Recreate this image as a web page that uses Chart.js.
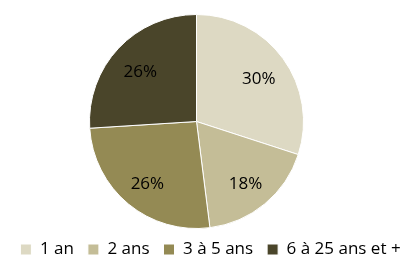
<!DOCTYPE html>
<html><head><meta charset="utf-8">
<script src="https://cdn.jsdelivr.net/npm/chart.js@4"></script>
<style>html,body{margin:0;padding:0;background:#fff}#w{width:409px;height:255px}</style>
</head><body><div id="w"><canvas id="c"></canvas></div>
<script>
const categories = ["1 an", "2 ans", "3 à 5 ans", "6 à 25 ans et +"];
const values = [30, 18, 26, 26];
const colors = ["#ddd9c3", "#c4bd97", "#948a54", "#4a452a"];
const FONT = "'Open Sans'";

const labelPlugin = {
  id: 'sliceLabels',
  afterLayout(chart) {
    // place the pie area (legend stays full width below)
    const ca = chart.chartArea;
    ca.left = 0; ca.right = 393; ca.top = 14; ca.bottom = 229;
    ca.width = ca.right - ca.left; ca.height = ca.bottom - ca.top;
    const lg = chart.legend;
    lg.left += 6; lg.right += 6;
  },
  afterDatasetsDraw(chart) {
    const ctx = chart.ctx;
    const meta = chart.getDatasetMeta(0);
    ctx.save();
    ctx.font = "17px " + FONT;
    ctx.fillStyle = "#000";
    ctx.textAlign = "center";
    ctx.textBaseline = "middle";
    meta.data.forEach((arc, i) => {
      const p = arc.getProps(['x','y','startAngle','endAngle','outerRadius'], true);
      const a = (p.startAngle + p.endAngle) / 2;
      const r = p.outerRadius * 0.72;
      ctx.fillText(values[i] + "%", p.x + Math.cos(a) * r, p.y + Math.sin(a) * r + 3);
    });
    ctx.restore();
  }
};

new Chart(document.getElementById('c'), {
  type: 'pie',
  data: { labels: categories, datasets: [{ data: values, backgroundColor: colors, borderColor: "#fff", borderWidth: 1 }] },
  options: {
    responsive: true, maintainAspectRatio: false, animation: false,
    layout: { padding: { top: 14, left: 0, right: 0, bottom: -13 } },
    plugins: {
      tooltip: { enabled: false },
      legend: { position: 'bottom', labels: { boxWidth: 11, boxHeight: 11, padding: 14, color: "#000", font: { family: FONT, size: 17 } } }
    }
  },
  plugins: [labelPlugin]
});
</script></body></html>
